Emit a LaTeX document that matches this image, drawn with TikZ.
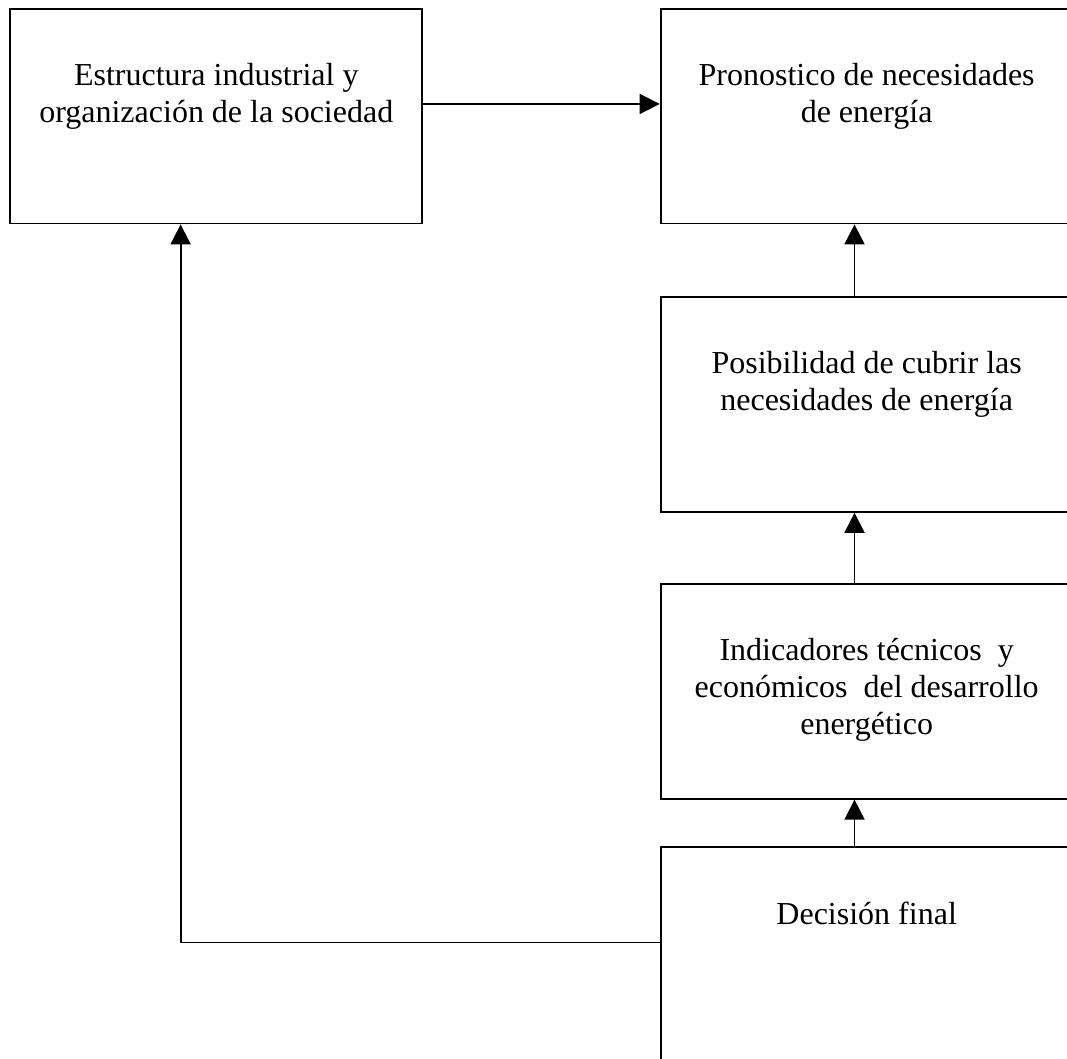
\documentclass[tikz,border=0pt]{standalone}
\usepackage{fontspec}
\setmainfont{Liberation Serif}
\usetikzlibrary{positioning, arrows.meta}

\begin{document}
\begin{tikzpicture}[>={Triangle[length=7.5pt, width=7.5pt]}, line width=0.7pt]
    \tikzset{box/.style={draw, minimum width=5.43cm, minimum height=2.83cm, inner sep=0pt},
             boxtext/.style={align=center, inner sep=0pt, font=\fontsize{12}{13.8}\selectfont}};
    \useasboundingbox (0, 0) rectangle (14.06, 13.95);
    % the five boxes
    \node[box] (estr) at (2.85, 12.42) {};
    \node[box] (pron) at (11.42, 12.42) {};
    \node[box] (posi) at (11.42, 8.62) {};
    \node[box] (indi) at (11.42, 4.84) {};
    \node[box, minimum height=3cm] (deci) at (11.42, 1.29) {};
    % their texts
    \node[boxtext, below=0.72cm of estr.north] (estrtxt) {Estructura industrial y\\organización de la sociedad};
    \node[boxtext, below=0.72cm of pron.north] (prontxt) {Pronostico de necesidades\\de energía};
    \node[boxtext, below=0.72cm of posi.north] (positxt) {Posibilidad de cubrir las\\necesidades de energía};
    \node[boxtext, below=0.72cm of indi.north] (inditxt) {Indicadores técnicos~ y\\económicos~ del desarrollo\\energético};
    \node[boxtext, below=0.72cm of deci.north] (decitxt) {Decisión final};
    % connectors
    \draw[->] ([yshift=0.16cm]estr.east) -- ([yshift=0.16cm]pron.west);
    \draw[->] ([xshift=-0.16cm]posi.north) -- ([xshift=-0.16cm]pron.south);
    \draw[->] ([xshift=-0.16cm]indi.north) -- ([xshift=-0.16cm]posi.south);
    \draw[->] ([xshift=-0.16cm]deci.north) -- ([xshift=-0.16cm]indi.south);
    \draw[->] ([yshift=0.24cm]deci.west) -| ([xshift=-0.47cm]estr.south);
\end{tikzpicture}
\end{document}
